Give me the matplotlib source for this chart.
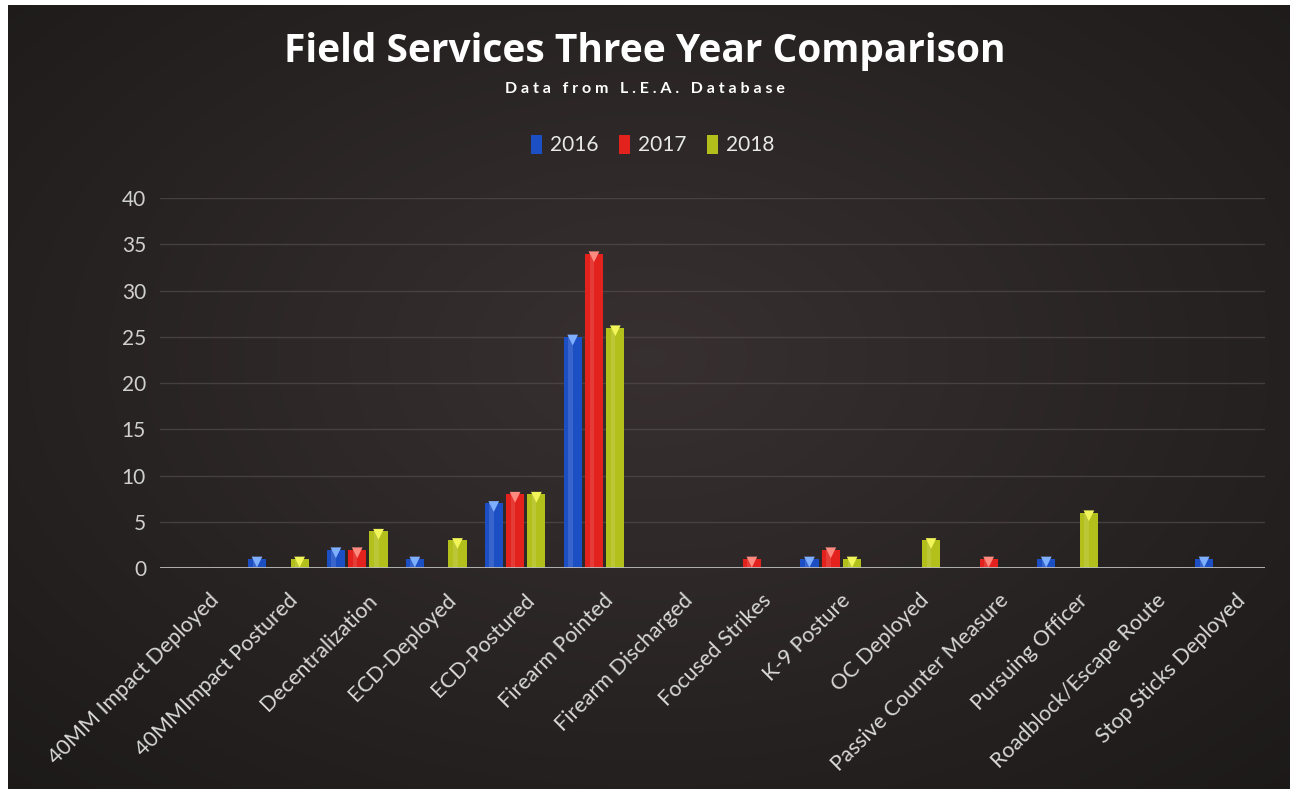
import numpy as np
import matplotlib.pyplot as plt

categories = ['40MM Impact Deployed', '40MMImpact Postured', 'Decentralization',
              'ECD-Deployed', 'ECD-Postured', 'Firearm Pointed', 'Firearm Discharged',
              'Focused Strikes', 'K-9 Posture', 'OC Deployed', 'Passive Counter Measure',
              'Pursuing Officer', 'Roadblock/Escape Route', 'Stop Sticks Deployed']
v2016 = [0, 1, 2, 1, 7, 25, 0, 0, 1, 0, 0, 1, 0, 1]
v2017 = [0, 0, 2, 0, 8, 34, 0, 1, 2, 0, 1, 0, 0, 0]
v2018 = [0, 1, 4, 3, 8, 26, 0, 0, 1, 3, 0, 6, 0, 0]
years = ['2016', '2017', '2018']
yticks = [0, 5, 10, 15, 20, 25, 30, 35, 40]

colors = ['#1d4fc4', '#e3221d', '#b3c01c']
caps = ['#7fb0ff', '#ff8a80', '#f2f55a']

fig = plt.figure(figsize=(13, 7.94), dpi=100)
fig.patch.set_facecolor('white')

# dark background with soft radial glow
bg = fig.add_axes([0.006, 0.006, 0.986, 0.988])
yy, xx = np.mgrid[0:1:400j, 0:1:650j]
r = np.sqrt(((xx - 0.5) / 0.8) ** 2 + ((yy - 0.45) / 0.85) ** 2)
g = np.clip(1 - r, 0, 1)
img = np.zeros((400, 650, 3))
img[..., 0] = 0.10 + 0.12 * g
img[..., 1] = 0.09 + 0.10 * g
img[..., 2] = 0.09 + 0.10 * g
bg.imshow(img, aspect='auto', extent=[0, 1, 0, 1])
bg.axis('off')

ax = fig.add_axes([0.123, 0.2846, 0.850, 0.466])
ax.set_facecolor('none')
x = np.arange(len(categories))
width = 0.23
step = 0.27
for i, (vals, c, cap, yr) in enumerate(zip([v2016, v2017, v2018], colors, caps, years)):
    pos = x + (i - 1) * step
    ax.bar(pos, vals, width, color=c, edgecolor='none', label=yr, zorder=3)
    # lighter highlight strip for a cylinder look
    ax.bar(pos - width * 0.12, vals, width * 0.25, color='white', alpha=0.12,
           edgecolor='none', zorder=4)
    nz = [p for p, v in zip(pos, vals) if v > 0]
    nv = [v for v in vals if v > 0]
    ax.scatter(nz, [v - 0.35 for v in nv], marker='v', s=60, color=cap, zorder=5,
               edgecolors='none')

ax.set_xlim(-0.5, len(categories) - 0.5)
ax.set_ylim(0, 40)
ax.set_yticks(yticks)
ax.set_yticklabels([str(t) for t in yticks], color='#cfcfcf', fontsize=15, family='Lato')
ax.grid(axis='y', color='#5a5252', linewidth=1, alpha=0.6, zorder=0)
ax.axhline(0, color='#bdbdbd', linewidth=2, zorder=6)
for s in ax.spines.values():
    s.set_visible(False)
ax.tick_params(axis='both', length=0, pad=10)
ax.set_xticks(x + 0.12)
ax.set_xticklabels(categories, rotation=45, ha='right', va='top', rotation_mode='anchor',
                   color='#d8d8d8', fontsize=15.5, family='Lato')
ax.tick_params(axis='x', pad=16)

fig.text(0.496, 0.935, 'Field Services Three Year Comparison', ha='center', va='center',
         color='white', fontsize=28, fontweight='bold', family='Open Sans')
fig.text(0.496, 0.888, 'D a t a   f r o m   L . E . A .   D a t a b a s e', ha='center',
         va='center', color='white', fontsize=11.5, fontweight='bold', family='Lato')

leg = ax.legend(loc='center', bbox_to_anchor=(0.446, 1.143), ncol=3, frameon=False,
                handlelength=0.5, handleheight=1.0, columnspacing=1.0,
                handletextpad=0.4, prop={'family': 'Lato', 'size': 15})
for t in leg.get_texts():
    t.set_color('#e8e8e8')

plt.savefig('out.png', dpi=100, facecolor=fig.get_facecolor())
